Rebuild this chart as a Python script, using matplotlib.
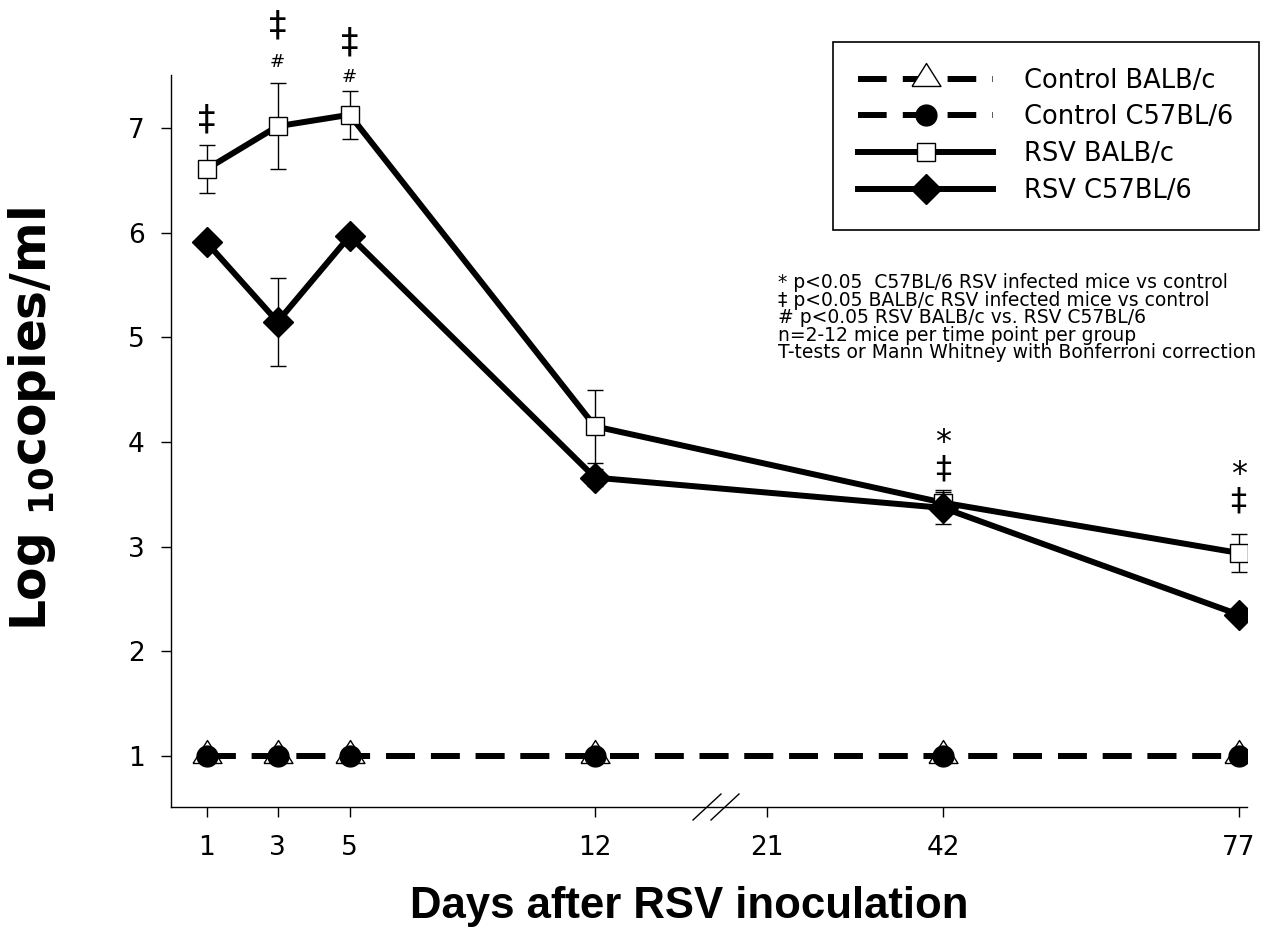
import numpy as np
import matplotlib
matplotlib.use("Agg")
import matplotlib.pyplot as plt
from matplotlib.lines import Line2D

# ---------------- data ----------------
days = [1, 3, 5, 12, 42, 77]
control_balbc = [1.0, 1.0, 1.0, 1.0, 1.0, 1.0]
control_c57 = [1.0, 1.0, 1.0, 1.0, 1.0, 1.0]
rsv_balbc = [6.61, 7.02, 7.13, 4.15, 3.42, 2.94]
rsv_balbc_err = [0.23, 0.41, 0.23, 0.35, 0.12, 0.18]
rsv_c57 = [5.91, 5.15, 5.97, 3.66, 3.37, 2.35]
rsv_c57_err = [0.05, 0.42, 0.05, 0.08, 0.15, 0.05]
tick_days = [1, 3, 5, 12, 21, 42, 77]
y_ticks = [1, 2, 3, 4, 5, 6, 7]

series_labels = ["Control BALB/c", "Control C57BL/6", "RSV BALB/c", "RSV C57BL/6"]

# significance symbols (day, symbol, level, size)
sig_marks = [
    (1, "\u2021", 7.08, 25),
    (3, "\u2021", 7.98, 25),
    (3, "#", 7.63, 13),
    (5, "\u2021", 7.82, 25),
    (5, "#", 7.49, 13),
    (42, "*\n\u2021", 3.87, 23),
    (77, "*\n\u2021", 3.56, 23),
]

notes = [
    "* p<0.05  C57BL/6 RSV infected mice vs control",
    "\u2021 p<0.05 BALB/c RSV infected mice vs control",
    "# p<0.05 RSV BALB/c vs. RSV C57BL/6",
    "n=2-12 mice per time point per group",
    "T-tests or Mann Whitney with Bonferroni correction",
]

# ---------------- broken time axis (layout) ----------------
scale_days = np.array([0, 1, 3, 5, 12, 21, 42, 77, 78], dtype=float)
scale_pos = np.array([171.5, 207, 278, 350, 595, 767, 943, 1238, 1246.4])


def fwd(x):
    return np.interp(np.asarray(x, dtype=float), scale_days, scale_pos)


def inv(p):
    return np.interp(np.asarray(p, dtype=float), scale_pos, scale_days)


plt.rcParams["font.family"] = ["DejaVu Sans"]
plt.rcParams["mathtext.fontset"] = "dejavusans"

W, H = 1279, 938
fig = plt.figure(figsize=(W / 100, H / 100), dpi=100)
ax = fig.add_axes([171 / W, 1 - 807 / H, (1247 - 171) / W, (807 - 75) / H])
ax.set_xscale("function", functions=(fwd, inv))
ax.set_xlim(0, 78)
ax.set_ylim(0.51, 7.51)

dash = (0, (4.8, 2.7))
LW = 4.3
tri = [(-0.906, -0.4375), (0.906, -0.4375), (0.0, 1.0), (-0.906, -0.4375)]

# controls
ax.plot(days, control_balbc, ls=dash, lw=LW, color="black", marker=tri, ms=23,
        mfc="white", mec="black", mew=1, zorder=3)
ax.plot(days, control_c57, ls=dash, lw=LW, color="black", marker="o", ms=15,
        mfc="black", mec="black", zorder=4)

# error bars
ax.errorbar(days, rsv_balbc, yerr=rsv_balbc_err, fmt="none", ecolor="black",
            elinewidth=1, capsize=6, capthick=1, zorder=2)
ax.errorbar(days, rsv_c57, yerr=rsv_c57_err, fmt="none", ecolor="black",
            elinewidth=1, capsize=6, capthick=1, zorder=2)

ax.plot(days, rsv_balbc, ls="-", lw=LW, color="black", marker="s", ms=12.5,
        mfc="white", mec="black", mew=1, zorder=5)
ax.plot(days, rsv_c57, ls="-", lw=LW, color="black", marker="D", ms=15,
        mfc="black", mec="black", zorder=6)

# significance symbols
for d, s, lev, size in sig_marks:
    ax.text(d, lev, s, ha="center", va="center", fontsize=size,
            multialignment="center", linespacing=0.82, clip_on=False)

# axes styling
for sp in ["top", "right"]:
    ax.spines[sp].set_visible(False)
for sp in ["left", "bottom"]:
    ax.spines[sp].set_linewidth(1.0)
ax.set_xticks(tick_days)
ax.set_xticklabels([str(d) for d in tick_days])
ax.set_yticks(y_ticks)
ax.set_yticklabels([str(v) for v in y_ticks])
ax.xaxis.set_minor_locator(matplotlib.ticker.NullLocator())
ax.tick_params(axis="both", direction="out", length=7, width=1, labelsize=19)
ax.tick_params(axis="y", pad=12)
ax.tick_params(axis="x", pad=13)

# axis break marks
aw, ah = (1247 - 171), (807 - 75)
for x0 in (693, 711):
    xa0 = (x0 - 171) / aw
    xa1 = (x0 + 28 - 171) / aw
    ax.plot([xa0, xa1], [-13 / ah, 13 / ah], transform=ax.transAxes,
            color="black", lw=1, clip_on=False, zorder=7)

# axis labels
fig.text(32 / W, 1 - 419 / H, r"Log $_{\mathbf{10}}$copies/ml", rotation=90,
         ha="center", va="center", fontsize=35, fontweight="bold")
fig.text(689 / W, 1 - 906 / H, "Days after RSV inoculation", ha="center",
         va="center", fontsize=31.5, fontweight="bold",
         family=["Liberation Sans", "DejaVu Sans"])

# notes
for i, line in enumerate(notes):
    fig.text(778 / W, 1 - (288 + 17.5 * i) / H, line, ha="left",
             va="baseline", fontsize=13.5)

# legend
handles = [
    Line2D([], [], ls=dash, lw=LW, color="black", marker=tri, ms=23,
           mfc="white", mec="black", mew=1),
    Line2D([], [], ls=dash, lw=LW, color="black", marker="o", ms=15,
           mfc="black", mec="black"),
    Line2D([], [], ls="-", lw=LW, color="black", marker="s", ms=12.5,
           mfc="white", mec="black", mew=1),
    Line2D([], [], ls="-", lw=LW, color="black", marker="D", ms=15,
           mfc="black", mec="black"),
]
leg = ax.legend(handles, series_labels, loc="upper right",
                bbox_to_anchor=(1259 / W, 1 - 42 / H),
                bbox_transform=fig.transFigure, borderaxespad=0,
                fontsize=18.5, handlelength=5.25, handletextpad=1.2,
                labelspacing=0.42, borderpad=1.0, numpoints=1,
                fancybox=False, framealpha=1, edgecolor="black")
leg.get_frame().set_linewidth(1.2)

fig.savefig("out.png", dpi=100)
